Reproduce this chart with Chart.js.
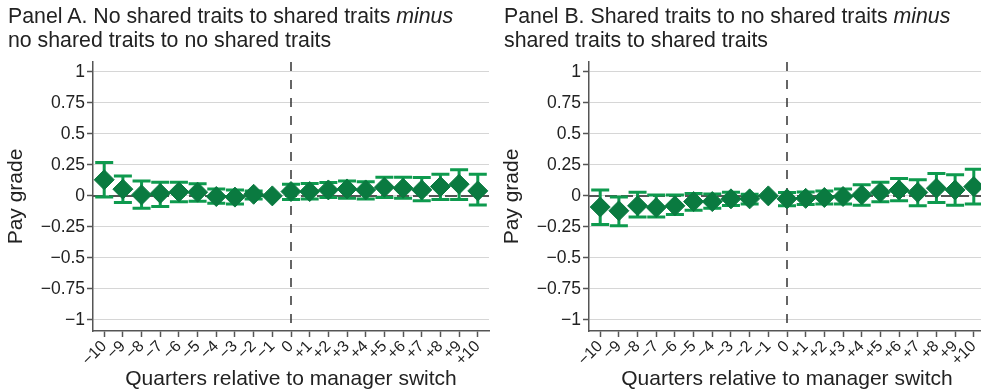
<!DOCTYPE html>
<html>
<head>
<meta charset="utf-8">
<script src="https://cdn.jsdelivr.net/npm/chart.js@4/dist/chart.umd.min.js"></script>
<style>
  body { margin: 0; background: #fff; }
  #wrap { position: relative; width: 981px; height: 392px; overflow: hidden; }
  .panel { position: absolute; top: 0; width: 500px; height: 392px; }
  .title { position: absolute; left: 8px; top: 4px; font: 21.3px "Liberation Sans", Arial, sans-serif; line-height: 24px; color: #222; white-space: nowrap; }
  canvas { position: absolute; left: 0; top: 0; }
</style>
</head>
<body>
<div id="wrap">
  <div class="panel" style="left:0">
    <canvas id="chartA" width="500" height="392"></canvas>
    <div class="title">Panel A. No shared traits to shared traits <i>minus</i><br>no shared traits to no shared traits</div>
  </div>
  <div class="panel" style="left:496px">
    <canvas id="chartB" width="500" height="392"></canvas>
    <div class="title">Panel B. Shared traits to no shared traits <i>minus</i><br>shared traits to shared traits</div>
  </div>
</div>
<script>
// quarters relative to the switch
const quarters = [-10, -9, -8, -7, -6, -5, -4, -3, -2, -1, 0, 1, 2, 3, 4, 5, 6, 7, 8, 9, 10];
const quarterLabels = ['\u221210', '\u22129', '\u22128', '\u22127', '\u22126', '\u22125', '\u22124', '\u22123', '\u22122', '\u22121',
  '0', '+1', '+2', '+3', '+4', '+5', '+6', '+7', '+8', '+9', '+10'];
const yTickValues = [1, 0.75, 0.5, 0.25, 0, -0.25, -0.5, -0.75, -1];

// Panel A: point estimates and 95% CI
const estA = [0.13, 0.054, 0.008, 0.02, 0.032, 0.03, -0.005, -0.01, 0.013, 0,
  0.035, 0.035, 0.048, 0.056, 0.048, 0.07, 0.062, 0.048, 0.075, 0.094, 0.04];
const hiA = [0.27, 0.16, 0.12, 0.11, 0.11, 0.097, 0.056, 0.048, 0.04, null,
  0.094, 0.10, 0.107, 0.12, 0.113, 0.15, 0.15, 0.148, 0.175, 0.21, 0.175];
const loA = [-0.01, -0.054, -0.10, -0.086, -0.048, -0.043, -0.06, -0.065, -0.025, null,
  -0.03, -0.025, -0.013, -0.02, -0.025, -0.013, -0.02, -0.04, -0.03, -0.03, -0.073];

// Panel B
const estB = [-0.09, -0.12, -0.08, -0.094, -0.08, -0.046, -0.046, -0.024, -0.024, 0,
  -0.024, -0.02, -0.013, -0.005, 0.008, 0.03, 0.048, 0.028, 0.062, 0.048, 0.075];
const hiB = [0.048, -0.01, 0.03, 0.008, 0.008, 0.02, 0.016, 0.03, 0.013, null,
  0.027, 0.032, 0.04, 0.056, 0.089, 0.11, 0.14, 0.13, 0.18, 0.17, 0.215];
const loB = [-0.23, -0.24, -0.17, -0.17, -0.15, -0.116, -0.10, -0.078, -0.065, null,
  -0.08, -0.07, -0.065, -0.065, -0.075, -0.048, -0.04, -0.08, -0.054, -0.075, -0.065];

const FONT = '"Liberation Sans", Arial, sans-serif';
const AXIS = '#555';

const refLines = {
  id: 'refLines',
  beforeDatasetsDraw(chart) {
    const { ctx, chartArea: a, scales: { x, y } } = chart;
    ctx.save();
    // zero line
    ctx.strokeStyle = AXIS;
    ctx.lineWidth = 2;
    ctx.setLineDash([12, 4]);
    const y0 = y.getPixelForValue(0);
    ctx.beginPath(); ctx.moveTo(a.left, y0); ctx.lineTo(a.right, y0); ctx.stroke();
    // switch quarter
    ctx.strokeStyle = '#333';
    ctx.lineWidth = 1.5;
    ctx.setLineDash([9, 9]);
    const x0 = x.getPixelForValue(0);
    ctx.beginPath(); ctx.moveTo(x0, a.top); ctx.lineTo(x0, a.bottom); ctx.stroke();
    ctx.restore();
  }
};

const errorBars = {
  id: 'errorBars',
  beforeDatasetsDraw(chart, args, opts) {
    const { ctx, scales: { x, y } } = chart;
    ctx.save();
    ctx.strokeStyle = '#0e9a4e';
    ctx.lineWidth = 3;
    opts.lo.forEach((lo, i) => {
      if (lo == null) return;
      const px = x.getPixelForValue(quarters[i]);
      const pl = y.getPixelForValue(lo);
      const ph = y.getPixelForValue(opts.hi[i]);
      ctx.beginPath();
      ctx.moveTo(px, pl); ctx.lineTo(px, ph);
      ctx.moveTo(px - 9, pl); ctx.lineTo(px + 9, pl);
      ctx.moveTo(px - 9, ph); ctx.lineTo(px + 9, ph);
      ctx.stroke();
    });
    ctx.restore();
  }
};

function makeChart(id, est, lo, hi) {
  new Chart(document.getElementById(id), {
    type: 'scatter',
    data: {
      datasets: [{
        data: quarters.map((q, i) => ({ x: q, y: est[i] })),
        pointStyle: 'rectRot',
        pointRadius: 10,
        pointHoverRadius: 10,
        backgroundColor: '#0a7a40',
        borderColor: '#0a7a40',
        borderWidth: 1
      }]
    },
    options: {
      responsive: false,
      animation: false,
      devicePixelRatio: 1,
      layout: { padding: { top: 62, left: 0, right: 2, bottom: 0 } },
      plugins: {
        legend: { display: false },
        tooltip: { enabled: false },
        errorBars: { lo: lo, hi: hi }
      },
      scales: {
        x: {
          type: 'linear',
          min: -10.6,
          max: 10.6,
          afterBuildTicks: s => { s.ticks = quarters.map(v => ({ value: v })); },
          afterFit: s => { s.height = 61; s.paddingLeft = 0; s.paddingRight = 0; },
          ticks: {
            autoSkip: false,
            minRotation: 45,
            maxRotation: 45,
            padding: 0,
            color: '#222',
            font: { family: FONT, size: 16 },
            callback: v => quarterLabels[quarters.indexOf(v)]
          },
          grid: { drawOnChartArea: false, tickLength: 6, tickColor: AXIS, tickWidth: 1.5 },
          border: { color: AXIS, width: 1.5 },
          title: {
            display: true,
            text: 'Quarters relative to manager switch',
            color: '#222',
            font: { family: FONT, size: 21 },
            padding: { top: 0, bottom: 0 }
          }
        },
        y: {
          min: -1.09,
          max: 1.08,
          afterBuildTicks: s => { s.ticks = yTickValues.map(v => ({ value: v })); },
          afterFit: s => { s.width = 93; s.paddingTop = 0; s.paddingBottom = 0; },
          ticks: {
            padding: 2,
            color: '#222',
            font: { family: FONT, size: 17.5 },
            callback: v => (v < 0 ? '\u2212' + String(-v) : String(v))
          },
          grid: { color: '#d6d6d6', lineWidth: 1, tickLength: 6, tickColor: AXIS, tickWidth: 1.5 },
          border: { color: AXIS, width: 1.5 },
          title: {
            display: true,
            text: 'Pay grade',
            color: '#222',
            font: { family: FONT, size: 21 },
            padding: { top: 4, bottom: 0 }
          }
        }
      }
    },
    plugins: [refLines, errorBars]
  });
}

makeChart('chartA', estA, loA, hiA);
makeChart('chartB', estB, loB, hiB);
</script>
</body>
</html>
